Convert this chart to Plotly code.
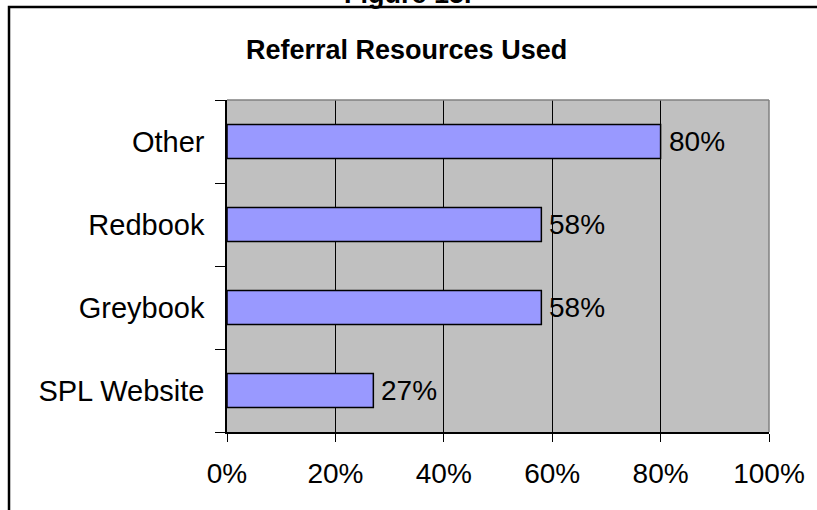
import plotly.graph_objects as go

# Referral resources, listed bottom to top
categories = ["SPL Website", "Greybook", "Redbook", "Other"]
shares = [0.27, 0.58, 0.58, 0.80]
x_tick_values = [0, 0.2, 0.4, 0.6, 0.8, 1.0]
x_tick_labels = ["0%", "20%", "40%", "60%", "80%", "100%"]

FONT = "Liberation Sans, Arial, sans-serif"
W, H = 817, 510
L, R, T, B = 227, 43, 100, 78
pw, ph = W - L - R, H - T - B


def px_x(x):
    return (x - L) / pw


def px_y(y):
    return (H - B - y) / ph


fig = go.Figure(
    go.Bar(
        x=shares,
        y=categories,
        orientation="h",
        width=0.41,
        marker=dict(color="#9999FF", line=dict(color="black", width=1.5)),
        hoverinfo="skip",
    )
)

# value labels just past the end of each bar
for cat, val in zip(categories, shares):
    fig.add_annotation(x=val, y=cat, xref="x", yref="y", text=f"{val:.0%}",
                       xanchor="left", yanchor="middle", xshift=6, showarrow=False,
                       font=dict(family=FONT, size=28, color="black"))

fig.update_layout(
    width=W,
    height=H,
    margin=dict(l=L, r=R, t=T, b=B),
    paper_bgcolor="white",
    plot_bgcolor="#C0C0C0",
    showlegend=False,
    font=dict(family=FONT, size=28, color="black"),
    bargap=0.59,
)

fig.update_xaxes(
    range=[0, 1],
    tickvals=x_tick_values,
    ticktext=x_tick_labels,
    showgrid=True,
    gridcolor="black",
    gridwidth=1,
    zeroline=False,
    showline=True,
    linecolor="black",
    linewidth=1.5,
    ticks="outside",
    ticklen=8,
    tickcolor="black",
    ticklabelstandoff=8,
    tickfont=dict(family=FONT, size=28, color="black"),
    fixedrange=True,
)

fig.update_yaxes(
    type="category",
    categoryorder="array",
    categoryarray=categories,
    range=[-0.5, 3.5],
    tickson="boundaries",
    ticks="outside",
    ticklen=10,
    tickcolor="black",
    showgrid=False,
    zeroline=False,
    showline=True,
    linecolor="black",
    linewidth=1.5,
    ticklabelstandoff=15,
    tickfont=dict(family=FONT, size=29, color="black"),
    fixedrange=True,
)

# gray top and right edges of the plotting area
fig.add_shape(type="line", xref="paper", yref="paper", x0=0, x1=1, y0=1, y1=1,
              line=dict(color="#808080", width=1.5))
fig.add_shape(type="line", xref="paper", yref="paper", x0=1, x1=1, y0=0, y1=1,
              line=dict(color="#808080", width=1.5))

# outer chart frame, running off the right and bottom of the page
fig.add_shape(type="rect", xref="paper", yref="paper",
              x0=px_x(7), x1=px_x(840), y0=px_y(540), y1=px_y(7),
              line=dict(color="black", width=2.5), layer="above")

fig.add_annotation(text="<b>Referral Resources Used</b>", xref="paper", yref="paper",
                   x=px_x(408), y=px_y(50), xanchor="center", yanchor="middle",
                   showarrow=False, font=dict(family=FONT, size=27, color="black"))

fig.add_annotation(text="<b>Figure 15.</b>", xref="paper", yref="paper",
                   x=px_x(410), y=px_y(11), xanchor="center", yanchor="bottom",
                   showarrow=False, font=dict(family=FONT, size=27, color="black"))

fig.write_html("out.html")
